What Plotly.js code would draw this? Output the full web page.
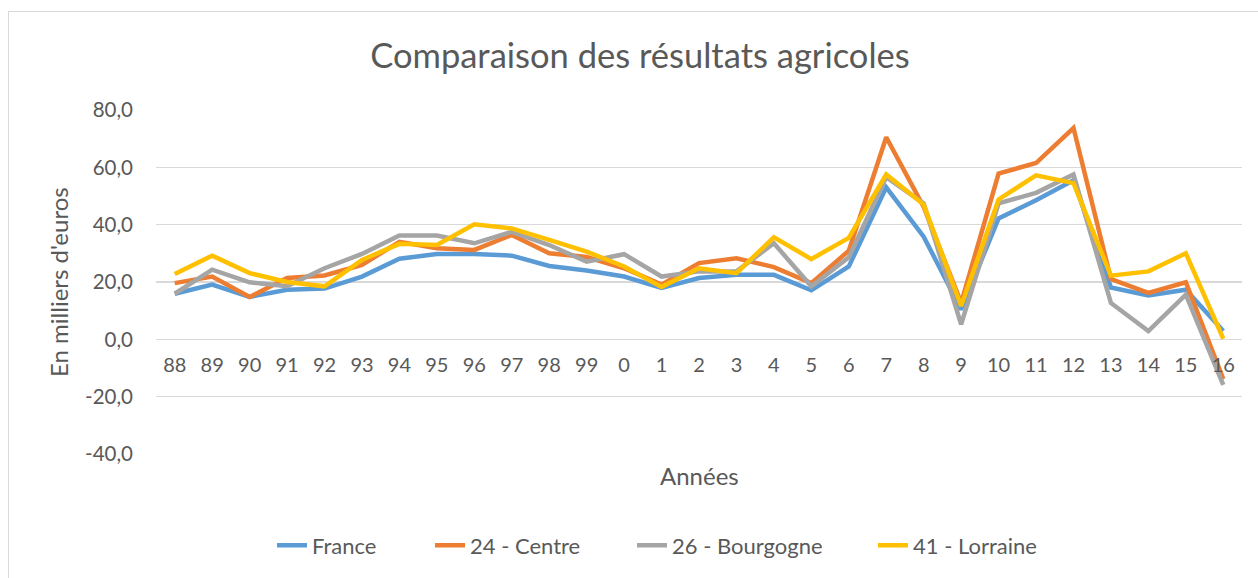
<!DOCTYPE html>
<html>
<head>
<meta charset="utf-8">
<script src="https://cdn.plot.ly/plotly-3.0.1.min.js"></script>
<style>
  html, body { margin: 0; padding: 0; background: #fff; }
  #wrap { position: relative; width: 1258px; height: 578px; overflow: hidden; }
  #chart { position: absolute; left: 0; top: 0; width: 1258px; height: 578px; }
  #frame { position: absolute; left: 8px; top: 11px; width: 1260px; height: 600px; border: 1px solid #d9d9d9; box-sizing: border-box; pointer-events: none; }
</style>
</head>
<body>
<div id="wrap">
  <div id="chart"></div>
  <div id="frame"></div>
</div>
<script>
const years = ['88','89','90','91','92','93','94','95','96','97','98','99','0','1','2','3','4','5','6','7','8','9','10','11','12','13','14','15','16'];
const france    = [15.9, 19.1, 14.8, 17.3, 17.7, 21.9, 28.1, 29.8, 29.8, 29.2, 25.6, 24.0, 21.9, 17.9, 21.4, 22.5, 22.5, 17.1, 25.4, 53.0, 35.8, 10.4, 42.2, 48.5, 55.5, 18.1, 15.3, 17.3, 2.9];
const centre    = [19.6, 21.9, 14.8, 21.4, 22.3, 26.0, 34.0, 31.8, 31.2, 36.4, 30.0, 28.7, 24.8, 19.1, 26.6, 28.3, 25.2, 19.6, 30.9, 70.5, 46.2, 12.7, 57.8, 61.5, 73.7, 21.0, 16.2, 19.9, -13.9];
const bourgogne = [15.9, 24.3, 19.9, 18.5, 24.8, 29.8, 36.2, 36.2, 33.5, 37.5, 32.9, 27.1, 29.7, 21.9, 23.7, 23.7, 33.5, 18.5, 28.6, 56.6, 47.4, 5.2, 47.4, 51.1, 57.5, 12.7, 2.9, 15.6, -15.9];
const lorraine  = [22.8, 29.2, 23.1, 20.0, 18.5, 27.7, 33.3, 32.9, 40.1, 38.7, 34.7, 30.6, 25.4, 18.3, 24.8, 23.1, 35.6, 28.0, 35.4, 57.5, 47.0, 11.6, 48.8, 57.2, 54.5, 22.2, 23.7, 30.0, 0.2];
const seriesNames = ['France', '24 - Centre', '26 - Bourgogne', '41 - Lorraine'];
const yTickVals = [-40, -20, 0, 20, 40, 60, 80];
const yTickText = ['-40,0', '-20,0', '0,0', '20,0', '40,0', '60,0', '80,0'];

const colors = ['#5B9BD5', '#ED7D31', '#A5A5A5', '#FFC000'];
const allSeries = [france, centre, bourgogne, lorraine];
const FONT = 'Lato, "Open Sans", sans-serif';
const TXT = '#595959';

// pixel positions (left edge of each legend entry's text) converted to paper coords
const L = 156, PW = 1086, T = 110, PH = 346;
const legendTextX = [312, 470, 672, 913];
const legendKeys = ['legend', 'legend2', 'legend3', 'legend4'];

const traces = allSeries.map((s, i) => ({
  type: 'scatter', mode: 'lines', name: seriesNames[i],
  x: years, y: s,
  legend: legendKeys[i],
  line: { color: colors[i], width: 4.5, shape: 'linear' },
  hoverinfo: 'x+y+name'
}));

const layout = {
  width: 1258, height: 578,
  margin: { l: L, r: 1258 - L - PW, t: T, b: 578 - T - PH, pad: 0 },
  paper_bgcolor: 'rgba(0,0,0,0)', plot_bgcolor: 'rgba(0,0,0,0)',
  font: { family: FONT, color: TXT, size: 20 },
  title: {
    text: 'Comparaison des résultats agricoles',
    font: { family: FONT, size: 34.5, color: TXT },
    x: 640 / 1258, xanchor: 'center', xref: 'container',
    y: 1 - 56 / 578, yanchor: 'middle', yref: 'container'
  },
  xaxis: {
    type: 'category', range: [-0.5, 28.5],
    showgrid: false, zeroline: false, showline: false,
    anchor: 'free', position: 1 / 3,
    ticks: '', ticklabelstandoff: 12,
    tickfont: { family: FONT, size: 20, color: TXT },
    fixedrange: true
  },
  yaxis: {
    range: [-40, 80],
    tickvals: yTickVals, ticktext: yTickText,
    showgrid: true, gridcolor: '#d9d9d9', gridwidth: 1.3,
    zeroline: false, showline: false, ticks: '',
    ticklabelstandoff: 22,
    tickfont: { family: FONT, size: 20.5, color: TXT },
    fixedrange: true
  },
  showlegend: true,
  annotations: [
    { text: 'Années', xref: 'paper', yref: 'paper', x: 0.5, y: (T + PH - 478) / PH,
      xanchor: 'center', yanchor: 'middle', showarrow: false,
      font: { family: FONT, size: 24, color: TXT } },
    { text: "En milliers d'euros", xref: 'paper', yref: 'paper', x: (58 - L) / PW, y: 0.5,
      xanchor: 'center', yanchor: 'middle', showarrow: false, textangle: -90,
      font: { family: FONT, size: 24, color: TXT } }
  ]
};

legendKeys.forEach((k, i) => {
  layout[k] = {
    orientation: 'h', x: (legendTextX[i] - 40 - L) / PW, xanchor: 'left',
    y: (T + PH - 548) / PH, yanchor: 'middle',
    font: { family: FONT, size: 22, color: TXT },
    bgcolor: 'rgba(0,0,0,0)', borderwidth: 0
  };
});

Plotly.newPlot('chart', traces, layout, { displayModeBar: false, staticPlot: true });
</script>
</body>
</html>
